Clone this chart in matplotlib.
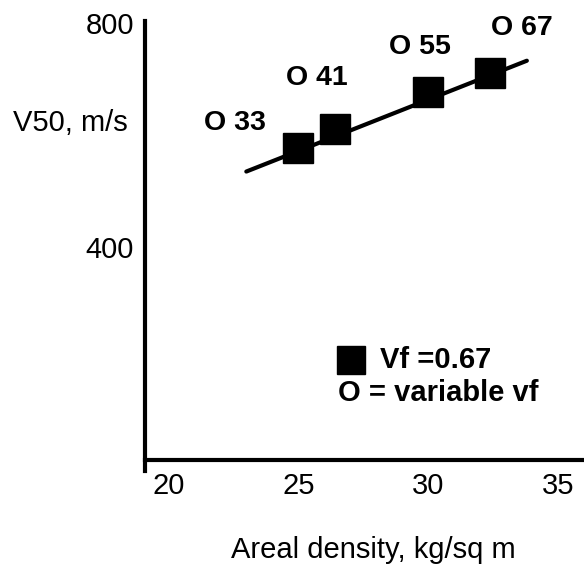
import matplotlib
matplotlib.use('Agg')
import matplotlib.pyplot as plt

plt.rcParams['font.family'] = ['Liberation Sans', 'DejaVu Sans']

# V50 vs areal density, fibre volume fraction 0.67
density = [25.0, 26.4, 30.0, 32.4]
v50 = [577, 611, 677, 711]
vf_labels = ['O 33', 'O 41', 'O 55', 'O 67']
label_x = [22.55, 25.7, 29.7, 33.6]
label_y = [621, 703, 757, 791]

# trend line end points
fit_x = [23.0, 33.8]
fit_y = [535, 733]

x_ticks = [20, 25, 30, 35]
y_ticks = [400, 800]

fs = 21

fig = plt.figure(figsize=(5.84, 5.67), dpi=100)
ax = fig.add_axes([0.2483, 0.1693, 0.7517, 0.7937])

ax.plot(fit_x, fit_y, color='black', lw=3, solid_capstyle='round', zorder=2)
ax.plot(density, v50, 's', color='black', markersize=21, zorder=3)

for lx, ly, txt in zip(label_x, label_y, vf_labels):
    ax.text(lx, ly, txt, fontsize=20.5, fontweight='bold', ha='center', va='center')

ax.set_xlim(19.1, 36.0)
ax.set_ylim(0, 804)
ax.set_xticks(x_ticks)
ax.set_yticks(y_ticks)
ax.tick_params(length=0, labelsize=fs)
ax.tick_params(axis='y', pad=8)
ax.tick_params(axis='x', pad=9)

for side in ['top', 'right']:
    ax.spines[side].set_visible(False)
ax.spines['bottom'].set_position(('data', 20))
ax.spines['left'].set_linewidth(3)
ax.spines['bottom'].set_linewidth(3)

# legend drawn by hand
ax.plot([0.470], [0.247], 's', color='black', markersize=20.5,
        transform=ax.transAxes, clip_on=False)
ax.text(0.535, 0.247, 'Vf =0.67', transform=ax.transAxes, fontsize=fs,
        fontweight='bold', ha='left', va='center')
ax.text(0.440, 0.173, 'O = variable vf', transform=ax.transAxes, fontsize=fs,
        fontweight='bold', ha='left', va='center')

fig.text(0.12, 0.783, 'V50, m/s', fontsize=fs, ha='center', va='center')
fig.text(0.640, 0.030, 'Areal density, kg/sq m', fontsize=fs, ha='center', va='center')

fig.savefig('out.png', dpi=100)
